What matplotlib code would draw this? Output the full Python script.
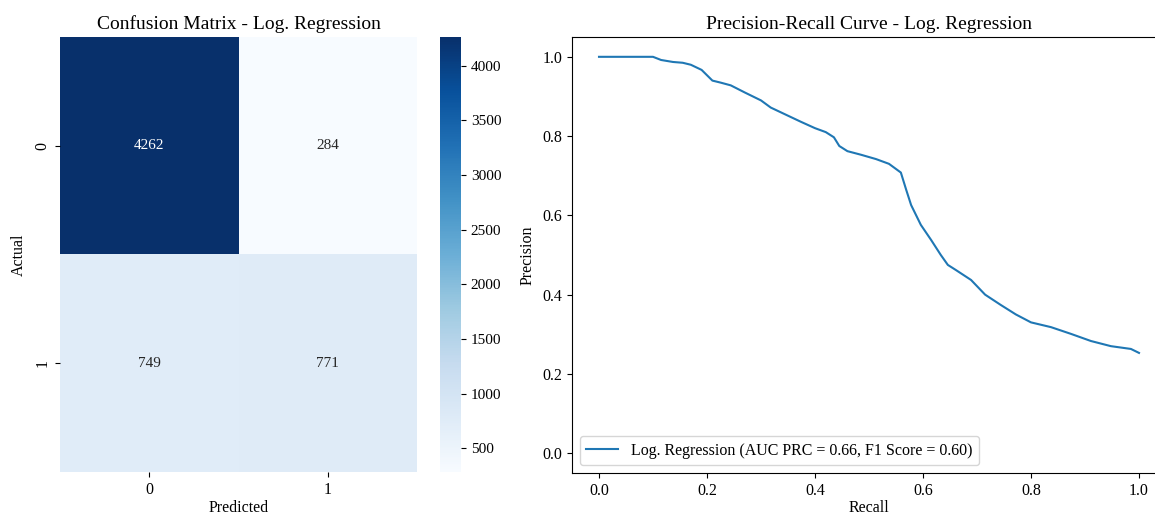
import numpy as np
import matplotlib
matplotlib.use("Agg")
import matplotlib.pyplot as plt
import seaborn as sns

plt.rcParams['font.family'] = ['Liberation Serif', 'DejaVu Serif']

# confusion matrix values
cm = np.array([[4262, 284],
               [749, 771]])
class_labels = ["0", "1"]

# precision-recall curve
recall = [0.0, 0.05, 0.10, 0.115, 0.137, 0.155, 0.17, 0.19, 0.21, 0.225, 0.244,
          0.27, 0.30, 0.318, 0.346, 0.374, 0.40, 0.42, 0.435, 0.445, 0.46, 0.485,
          0.513, 0.537, 0.559, 0.569, 0.578, 0.596, 0.615, 0.633, 0.646, 0.661,
          0.689, 0.715, 0.744, 0.772, 0.80, 0.837, 0.874, 0.911, 0.948, 0.985, 1.0]
precision = [1.0, 1.0, 1.0, 0.992, 0.987, 0.985, 0.98, 0.967, 0.94, 0.935, 0.928,
             0.91, 0.89, 0.872, 0.854, 0.836, 0.82, 0.81, 0.797, 0.775, 0.762, 0.753,
             0.742, 0.73, 0.708, 0.664, 0.626, 0.576, 0.538, 0.50, 0.475, 0.462,
             0.437, 0.40, 0.374, 0.35, 0.33, 0.318, 0.301, 0.283, 0.27, 0.263, 0.253]
auc_prc = 0.66
f1 = 0.60

fig = plt.figure(figsize=(11.55, 5.16), dpi=100)
W, H = 1155, 516

# heatmap
ax1 = fig.add_axes([60 / W, 1 - 472 / H, 357 / W, 435 / H])
cax = fig.add_axes([440 / W, 1 - 472 / H, 21 / W, 435 / H])
sns.heatmap(cm, annot=True, fmt="d", cmap="Blues", ax=ax1, cbar_ax=cax,
            xticklabels=class_labels, yticklabels=class_labels,
            annot_kws={"fontsize": 11})
ax1.set_title("Confusion Matrix - Log. Regression", fontsize=14)
ax1.set_xlabel("Predicted", fontsize=11.5, labelpad=2)
ax1.set_ylabel("Actual", fontsize=11.5, labelpad=5)
ax1.tick_params(labelsize=11.5)
plt.setp(ax1.get_yticklabels(), rotation=90, va="center")
cax.tick_params(labelsize=11)

# precision-recall curve
ax2 = fig.add_axes([572 / W, 1 - 473 / H, 594 / W, 436 / H])
ax2.plot(recall, precision, color="#1f77b4",
         label=f"Log. Regression (AUC PRC = {auc_prc:.2f}, F1 Score = {f1:.2f})")
ax2.set_xlim(-0.05, 1.05)
ax2.set_ylim(-0.05, 1.05)
ax2.set_title("Precision-Recall Curve - Log. Regression", fontsize=14)
ax2.set_xlabel("Recall", fontsize=11.5, labelpad=1)
ax2.set_ylabel("Precision", fontsize=11.5, labelpad=5)
ax2.tick_params(labelsize=11.5)
ax2.legend(loc="lower left", fontsize=11.5)

fig.savefig("out.png", dpi=100)
